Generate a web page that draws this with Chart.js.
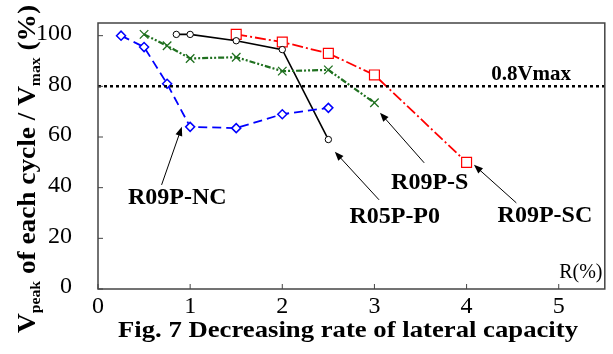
<!DOCTYPE html>
<html>
<head>
<meta charset="utf-8">
<script src="https://cdn.jsdelivr.net/npm/chart.js@4/dist/chart.umd.min.js"></script>
<style>
html,body{margin:0;padding:0;background:#fff;}
#wrap{width:613px;height:354px;position:relative;}
</style>
</head>
<body>
<div id="wrap"><canvas id="c" width="613" height="354"></canvas></div>
<script>
// ---- data ----
const rNC  = [0.25, 0.5, 0.75, 1, 1.5, 2, 2.5];
const vNC  = [100, 95.5, 81, 64, 63.5, 69, 71.5];
const rS   = [0.5, 0.75, 1, 1.5, 2, 2.5, 3];
const vS   = [100.5, 96, 91, 91.5, 86, 86.5, 73.5];
const rP0  = [0.85, 1, 1.5, 2, 2.5];
const vP0  = [100.5, 100.5, 98, 94.5, 59];
const rSC  = [1.5, 2, 2.5, 3, 4];
const vSC  = [100.5, 97.5, 93, 84.5, 50];
const limitR = [0, 5.5];
const limitV = [80, 80];
const xTicks = [0, 1, 2, 3, 4, 5];
const yTicks = [0, 20, 40, 60, 80, 100];
const seriesNames = ['R09P-NC', 'R09P-S', 'R05P-P0', 'R09P-SC'];
// label anchors (data coords) and arrow tails/heads (data coords)
const labelR = [0.86, 3.6, 3.22, 4.85];
const labelV = [36, 42, 28.5, 29];
const arrowTailR = [0.69, 3.54, 3.05, 4.54];
const arrowTailV = [41.1, 49.8, 35.2, 34];
const arrowHeadR = [0.91, 3.06, 2.57, 4.08];
const arrowHeadV = [64, 69.6, 54.2, 49];
const limitLabel = '0.8Vmax';
const limitLabelPos = [4.7, 84.6];
const xUnitLabel = 'R(%)';
const xUnitPos = [5.24, 6.3];
const caption = 'Fig. 7 Decreasing rate of lateral capacity';

const SERIF = "'Liberation Serif','Times New Roman',serif";
const pts = (xs, ys) => xs.map((x, i) => ({x: x, y: ys[i]}));

const overlay = {
  id: 'overlay',
  afterDatasetsDraw(chart) {
    const ctx = chart.ctx, xs = chart.scales.x, ys = chart.scales.y, a = chart.chartArea;
    ctx.save();
    // frame
    ctx.strokeStyle = '#444'; ctx.lineWidth = 1.5;
    ctx.strokeRect(a.left, a.top, a.right - a.left, a.bottom - a.top);
    // inward ticks
    ctx.lineWidth = 1;
    yTicks.forEach(v => { const y = ys.getPixelForValue(v); ctx.beginPath(); ctx.moveTo(a.left, y); ctx.lineTo(a.left + 5, y); ctx.stroke(); });
    xTicks.forEach(v => { const x = xs.getPixelForValue(v); ctx.beginPath(); ctx.moveTo(x, a.bottom); ctx.lineTo(x, a.bottom - 5); ctx.stroke(); });
    // arrows
    ctx.strokeStyle = '#000'; ctx.fillStyle = '#000'; ctx.lineWidth = 1;
    for (let i = 0; i < seriesNames.length; i++) {
      const x1 = xs.getPixelForValue(arrowTailR[i]), y1 = ys.getPixelForValue(arrowTailV[i]);
      const x2 = xs.getPixelForValue(arrowHeadR[i]), y2 = ys.getPixelForValue(arrowHeadV[i]);
      const ang = Math.atan2(y2 - y1, x2 - x1);
      ctx.beginPath(); ctx.moveTo(x1, y1); ctx.lineTo(x2 - 6 * Math.cos(ang), y2 - 6 * Math.sin(ang)); ctx.stroke();
      ctx.beginPath();
      ctx.moveTo(x2, y2);
      ctx.lineTo(x2 - 9 * Math.cos(ang) + 3.5 * Math.sin(ang), y2 - 9 * Math.sin(ang) - 3.5 * Math.cos(ang));
      ctx.lineTo(x2 - 9 * Math.cos(ang) - 3.5 * Math.sin(ang), y2 - 9 * Math.sin(ang) + 3.5 * Math.cos(ang));
      ctx.closePath(); ctx.fill();
    }
    // series labels
    ctx.textAlign = 'center'; ctx.textBaseline = 'middle';
    ctx.font = 'bold 24px ' + SERIF;
    for (let i = 0; i < seriesNames.length; i++) {
      ctx.fillText(seriesNames[i], xs.getPixelForValue(labelR[i]), ys.getPixelForValue(labelV[i]));
    }
    ctx.font = 'bold 21px ' + SERIF;
    ctx.fillText(limitLabel, xs.getPixelForValue(limitLabelPos[0]), ys.getPixelForValue(limitLabelPos[1]));
    ctx.font = '20px ' + SERIF;
    ctx.fillText(xUnitLabel, xs.getPixelForValue(xUnitPos[0]), ys.getPixelForValue(xUnitPos[1]));
    ctx.restore();
  },
  afterDraw(chart) {
    const ctx = chart.ctx;
    ctx.save();
    // caption, stretched to the reference width
    ctx.fillStyle = '#000';
    ctx.textAlign = 'center'; ctx.textBaseline = 'middle';
    ctx.font = 'bold 24px ' + SERIF;
    const cw = ctx.measureText(caption).width;
    ctx.translate(348, 331);
    ctx.scale(460 / cw, 1);
    ctx.fillText(caption, 0, 0);
    ctx.restore();
    ctx.save();
    ctx.fillStyle = '#000';
    // rotated y title with subscripts
    const parts = [
      {t: 'V', f: 'bold 26px ' + SERIF, dy: 0},
      {t: 'peak', f: 'bold 15px ' + SERIF, dy: 5},
      {t: ' of each cycle / V', f: 'bold 26px ' + SERIF, dy: 0},
      {t: 'max', f: 'bold 15px ' + SERIF, dy: 5},
      {t: ' (%)', f: 'bold 26px ' + SERIF, dy: 0}
    ];
    let total = 0;
    parts.forEach(p => { ctx.font = p.f; p.w = ctx.measureText(p.t).width; total += p.w; });
    const len = 328;
    ctx.translate(35, 333);
    ctx.rotate(-Math.PI / 2);
    ctx.scale(len / total, 1);
    ctx.textAlign = 'left'; ctx.textBaseline = 'alphabetic';
    let x = 0;
    parts.forEach(p => { ctx.font = p.f; ctx.fillText(p.t, x, p.dy); x += p.w; });
    ctx.restore();
  }
};

new Chart(document.getElementById('c'), {
  type: 'line',
  data: {
    datasets: [
      {label: '0.8Vmax', data: pts(limitR, limitV), borderColor: '#000', borderWidth: 2.5, borderDash: [3, 3], pointRadius: 0, fill: false},
      {label: seriesNames[0], data: pts(rNC, vNC), borderColor: '#0000ff', borderWidth: 1.8, borderDash: [9, 5],
       pointStyle: 'rectRot', pointRadius: 4.5, pointBorderWidth: 1.5, pointBorderColor: '#0000ff', pointBackgroundColor: '#fff'},
      {label: seriesNames[1], data: pts(rS, vS), borderColor: '#1f701f', borderWidth: 2.2, borderDash: [6, 2, 2, 2, 2, 2],
       pointStyle: 'crossRot', pointRadius: 6, pointBorderWidth: 1.3, pointBorderColor: '#1f701f'},
      {label: seriesNames[2], data: pts(rP0, vP0), borderColor: '#000', borderWidth: 1.6,
       pointStyle: 'circle', pointRadius: 3.2, pointBorderWidth: 1, pointBorderColor: '#000', pointBackgroundColor: '#fff'},
      {label: seriesNames[3], data: pts(rSC, vSC), borderColor: '#ff0000', borderWidth: 1.8, borderDash: [11, 3, 2, 3],
       pointStyle: 'rect', pointRadius: 7, pointBorderWidth: 1.2, pointBorderColor: '#ff0000', pointBackgroundColor: '#fff'}
    ]
  },
  options: {
    responsive: false,
    animation: false,
    devicePixelRatio: 1,
    layout: {padding: {top: 23, right: 5, left: 0, bottom: 0}},
    plugins: {legend: {display: false}, tooltip: {enabled: false}},
    elements: {line: {tension: 0}},
    scales: {
      x: {
        type: 'linear', min: 0, max: 5.5,
        grid: {display: false}, border: {display: false},
        afterBuildTicks: s => { s.ticks = xTicks.map(v => ({value: v})); },
        afterFit: s => { s.height = 65; s.paddingLeft = 0; s.paddingRight = 0; },
        ticks: {color: '#000', font: {family: SERIF, size: 24, lineHeight: 1}, padding: -2, maxRotation: 0}
      },
      y: {
        min: 0, max: 105,
        grid: {display: false}, border: {display: false},
        afterBuildTicks: s => { s.ticks = yTicks.map(v => ({value: v})); },
        afterFit: s => { s.width = 98; s.paddingTop = 0; s.paddingBottom = 0; },
        ticks: {color: '#000', font: {family: SERIF, size: 24}, padding: 18, labelOffset: -2}
      }
    }
  },
  plugins: [overlay]
});
</script>
</body>
</html>
